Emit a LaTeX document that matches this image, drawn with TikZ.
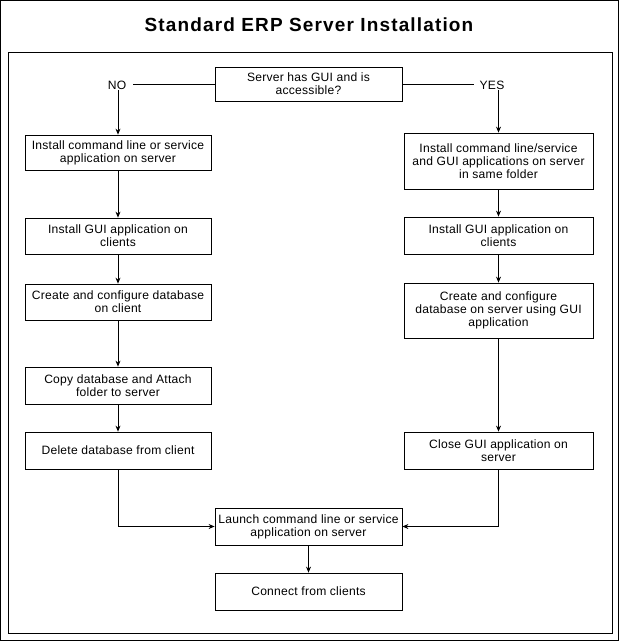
\documentclass[tikz,border=0pt]{standalone}
\usepackage{fontspec}
\setmainfont{Liberation Sans}
\newfontfamily\bodyfont{Liberation Sans}[LetterSpace=2.0]
\newfontfamily\titlefont{Liberation Sans Bold}[LetterSpace=6.0]
\usetikzlibrary{arrows.meta}
\begin{document}
\begin{tikzpicture}[x=1pt,y=-1pt,
  box/.style={draw, line width=0.8pt, align=center, inner sep=0pt,
    font=\bodyfont\fontsize{12.1}{13}\selectfont},
  lbl/.style={inner sep=1pt, font=\bodyfont\fontsize{12.1}{13}\selectfont},
  arr/.style={-{Stealth[length=6pt,width=5pt]}, line width=0.8pt},
  ln/.style={line width=0.8pt}]
\useasboundingbox (0,0) rectangle (619,641);
\draw[line width=1pt] (0.8,0.8) rectangle (618.2,640.2);
\draw[line width=1pt] (8,52) rectangle (612,633);
\node[font=\titlefont\fontsize{19}{22}\selectfont] (title) at (309,25) {Standard ERP Server Installation};

\node[box, minimum width=187pt, minimum height=34pt] (d) at (308.5,84) {Server has GUI and is\\accessible?};
\node[lbl] (no) at (117,85) {NO};
\node[lbl] (yes) at (492,85) {YES};

\node[box, minimum width=186pt, minimum height=35pt] (l1) at (118,152.5) {Install command line or service\\application on server};
\node[box, minimum width=186pt, minimum height=36pt] (l2) at (118,236) {Install GUI application on\\clients};
\node[box, minimum width=186pt, minimum height=36pt] (l3) at (118,302) {Create and configure database\\on client};
\node[box, minimum width=186pt, minimum height=37pt] (l4) at (118,385.5) {Copy database and Attach\\folder to server};
\node[box, minimum width=186pt, minimum height=37pt] (l5) at (118,450.5) {Delete database from client};

\node[box, minimum width=189pt, minimum height=56pt] (r1) at (498.5,161) {Install command line/service\\and GUI applications on server\\in same folder};
\node[box, minimum width=189pt, minimum height=37pt] (r2) at (498.5,235.5) {Install GUI application on\\clients};
\node[box, minimum width=189pt, minimum height=55pt] (r3) at (498.5,310.5) {Create and configure\\database on server using GUI\\application};
\node[box, minimum width=189pt, minimum height=37pt] (r4) at (498.5,450.5) {Close GUI application on\\server};

\node[box, minimum width=187pt, minimum height=37pt] (la) at (308.5,526.5) {Launch command line or service\\application on server};
\node[box, minimum width=187pt, minimum height=37pt] (co) at (308.5,591.5) {Connect from clients};

\coordinate (nol) at ([xshift=6pt]no.east |- d.west);
\coordinate (yesl) at ([xshift=-4pt]yes.west |- d.east);
\draw[ln] (nol) -- (d.west);
\draw[ln] (d.east) -- (yesl);
\draw[arr] (l1.north |- no.south) -- (l1.north);
\draw[arr] (r1.north |- yes.south) -- (r1.north);
\draw[arr] (l1) -- (l2);
\draw[arr] (l2) -- (l3);
\draw[arr] (l3) -- (l4);
\draw[arr] (l4) -- (l5);
\draw[arr] (r1) -- (r2);
\draw[arr] (r2) -- (r3);
\draw[arr] (r3) -- (r4);
\draw[arr] (l5.south) |- (la.west);
\draw[arr] (r4.south) |- (la.east);
\draw[arr] (la) -- (co);
\end{tikzpicture}
\end{document}
